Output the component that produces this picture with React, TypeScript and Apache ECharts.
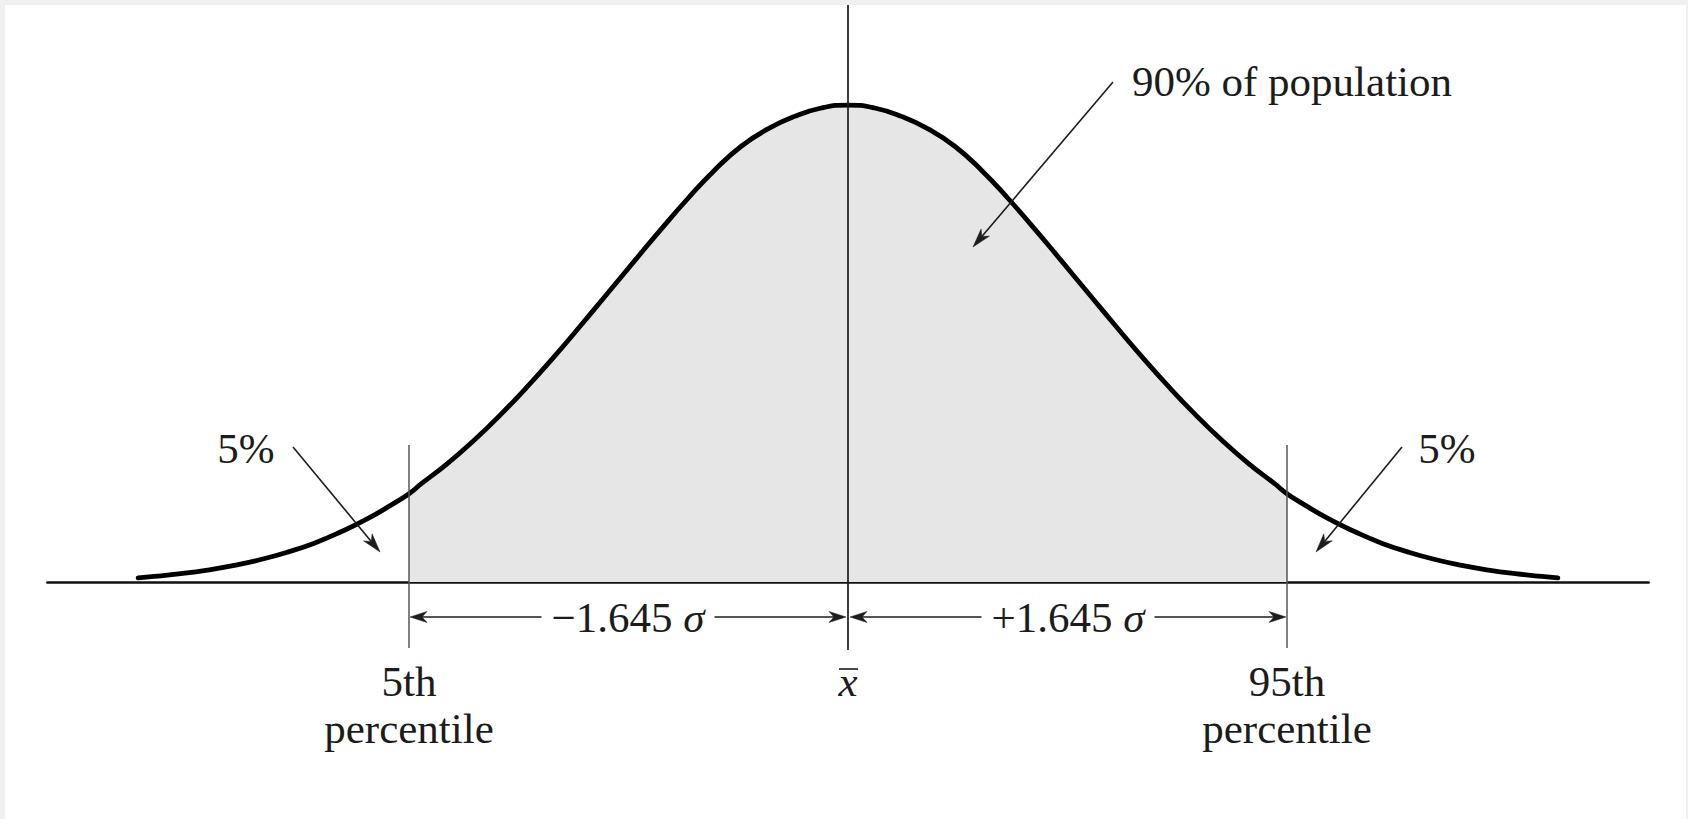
import React, { useEffect, useRef } from "react";
import * as echarts from "echarts";

// Standardised position (units of the marked sigma) and curve height (density)
const zValues = [
  -2.66, -2.6, -2.5, -2.4, -2.3, -2.2, -2.1, -2.0, -1.9, -1.8, -1.7, -1.645, -1.6, -1.5, -1.4, -1.3, -1.2, -1.1,
  -1.0, -0.9, -0.8, -0.7, -0.6, -0.5, -0.4, -0.3, -0.2, -0.1, 0,
  0.1, 0.2, 0.3, 0.4, 0.5, 0.6, 0.7, 0.8, 0.9, 1.0,
  1.1, 1.2, 1.3, 1.4, 1.5, 1.6, 1.645, 1.7, 1.8, 1.9, 2.0, 2.1, 2.2, 2.3, 2.4, 2.5, 2.6, 2.66,
];
const density = [
  0.0035, 0.0047, 0.007, 0.01, 0.0139, 0.0188, 0.025, 0.0325, 0.042, 0.053, 0.066, 0.0738, 0.082, 0.0993, 0.1188,
  0.1404, 0.1638, 0.1888, 0.215, 0.2418, 0.2686, 0.2952, 0.3208, 0.3445, 0.3645, 0.379, 0.3895, 0.3965, 0.399,
  0.3965, 0.3895, 0.379, 0.3645, 0.3445, 0.3208, 0.2952, 0.2686, 0.2418, 0.215,
  0.1888, 0.1638, 0.1404, 0.1188, 0.0993, 0.082, 0.0738, 0.066, 0.053, 0.042, 0.0325, 0.025, 0.0188, 0.0139, 0.01,
  0.007, 0.0047, 0.0035,
];

const percentileZ = [-1.645, 0, 1.645];
const percentileTop = ["5th", "x", "95th"];
const percentileBottom = ["percentile", "", "percentile"];
const spanLabels = ["\u22121.645", "+1.645"];
const sigmaLabel = "\u03c3";
const tailLabels = ["5%", "5%"];
const bodyLabel = "90% of population";

const FONT = "'Liberation Serif', 'Times New Roman', Times, serif";
const INK = "#1c1c1c";
const FS = 43;

function arrow(x1: number, y1: number, x2: number, y2: number, len: number, half: number, width: number) {
  const dx = x2 - x1;
  const dy = y2 - y1;
  const L = Math.sqrt(dx * dx + dy * dy);
  const ux = dx / L;
  const uy = dy / L;
  const nx = -uy;
  const ny = ux;
  const bx = x2 - ux * len;
  const by = y2 - uy * len;
  const mx = x2 - ux * len * 0.72;
  const my = y2 - uy * len * 0.72;
  return [
    {
      type: "line",
      z: 20,
      shape: { x1, y1, x2: mx, y2: my },
      style: { stroke: INK, lineWidth: width },
    },
    {
      type: "polygon",
      z: 20,
      shape: {
        points: [
          [x2, y2],
          [bx + nx * half, by + ny * half],
          [mx, my],
          [bx - nx * half, by - ny * half],
        ],
      },
      style: { fill: INK, stroke: INK, lineWidth: 0.5 },
    },
  ];
}

function label(text: string, x: number, y: number, extra: any = {}) {
  return {
    type: "text",
    z: 30,
    x,
    y,
    style: {
      text,
      fontSize: FS,
      fontFamily: FONT,
      fill: INK,
      align: "center",
      verticalAlign: "middle",
      textAlign: "center",
      textVerticalAlign: "middle",
      ...extra,
    },
  };
}

export default function App() {
  const ref = useRef<HTMLDivElement>(null);

  useEffect(() => {
    if (!ref.current) return;
    const chart = echarts.init(ref.current, null, { renderer: "svg" });
    const curve = zValues.map((z, i) => [z, density[i]]);
    const body = curve.filter((p) => Math.abs(p[0]) <= 1.645 + 1e-9);

    chart.setOption({
      animation: false,
      grid: { left: 47.4, right: 39.4, top: 8.2, bottom: 237 },
      xAxis: {
        type: "value",
        min: -3,
        max: 3,
        axisLine: { show: true, onZero: true, lineStyle: { color: "#111", width: 2.6 } },
        axisTick: { show: false },
        axisLabel: { show: false },
        splitLine: { show: false },
      },
      yAxis: { type: "value", min: 0, max: 0.48, show: false },
      series: [
        {
          type: "line",
          data: body,
          smooth: 0.5,
          symbol: "none",
          lineStyle: { width: 0 },
          areaStyle: { color: "#e6e6e6", opacity: 1 },
          z: 1,
          silent: true,
        },
        {
          type: "line",
          data: curve,
          smooth: 0.5,
          symbol: "none",
          lineStyle: { width: 4.8, color: "#000", cap: "round", join: "round" },
          z: 3,
          silent: true,
        },
      ],
    });

    const P = (z: number, d: number) => chart.convertToPixel({ gridIndex: 0 }, [z, d]) as number[];
    const baseY = P(0, 0)[1];
    const xs = percentileZ.map((z) => P(z, 0)[0]);
    const dimY = baseY + 35;
    const els: any[] = [];

    // vertical reference lines
    els.push({
      type: "line",
      z: 15,
      shape: { x1: xs[1], y1: 5, x2: xs[1], y2: baseY + 68 },
      style: { stroke: "#1a1a1a", lineWidth: 1.7 },
    });
    [0, 2].forEach((i) => {
      els.push({
        type: "line",
        z: 15,
        shape: { x1: xs[i], y1: baseY - 137, x2: xs[i], y2: baseY + 66 },
        style: { stroke: "#555", lineWidth: 1.5 },
      });
    });

    // dimension arrows
    const dimHead = (tip: number, dir: number) => ({
      type: "polygon",
      z: 20,
      shape: {
        points: [
          [tip, dimY],
          [tip + dir * 17, dimY - 5.5],
          [tip + dir * 12, dimY],
          [tip + dir * 17, dimY + 5.5],
        ],
      },
      style: { fill: INK, stroke: INK, lineWidth: 0.5 },
    });
    [
      [xs[0] + 1, xs[1] - 2],
      [xs[1] + 2, xs[2] - 1],
    ].forEach(([a, b], k) => {
      els.push({
        type: "line",
        z: 18,
        shape: { x1: a + 10, y1: dimY, x2: b - 10, y2: dimY },
        style: { stroke: INK, lineWidth: 1.6 },
      });
      els.push(dimHead(a, 1));
      els.push(dimHead(b, -1));
      els.push({
        type: "text",
        z: 30,
        x: (a + b) / 2,
        y: dimY,
        style: {
          text: "{n|" + spanLabels[k] + " }{s|" + sigmaLabel + "}",
          fontSize: FS,
          fontFamily: FONT,
          fill: INK,
          align: "center",
          verticalAlign: "middle",
          textAlign: "center",
          textVerticalAlign: "middle",
          backgroundColor: "#ffffff",
          padding: [0, 10],
          rich: {
            n: { fontSize: FS, fontFamily: FONT, fill: INK },
            s: { fontSize: FS, fontFamily: FONT, fill: INK, fontStyle: "italic" },
          },
        },
      });
    });

    // percentile labels
    percentileZ.forEach((_, i) => {
      if (i === 1) {
        els.push(label(percentileTop[i], xs[i], baseY + 99, { fontStyle: "italic" }));
        els.push({
          type: "line",
          z: 30,
          shape: { x1: xs[i] - 9, y1: baseY + 87, x2: xs[i] + 10, y2: baseY + 87 },
          style: { stroke: INK, lineWidth: 1.6 },
        });
      } else {
        els.push(label(percentileTop[i], xs[i], baseY + 99));
        els.push(label(percentileBottom[i], xs[i], baseY + 146));
      }
    });

    // tail and body annotations
    els.push(label(tailLabels[0], 246, 448));
    els.push(...arrow(293, 447, 380, 552, 19, 5.5, 1.6));
    els.push(label(tailLabels[1], 1447, 448));
    els.push(...arrow(1402, 447, 1316, 552, 19, 5.5, 1.6));
    els.push(label(bodyLabel, 1292, 81));
    els.push(...arrow(1113, 82, 973, 247, 19, 5.5, 1.6));

    chart.setOption({ graphic: { elements: els } });

    return () => {
      chart.dispose();
    };
  }, []);

  return (
    <div style={{ position: "fixed", left: 0, top: 0, width: "1688px", height: "819px", background: "#f0f0f0" }}>
      <div
        style={{ position: "absolute", left: "5px", top: "5px", width: "1681px", height: "814px", background: "#ffffff" }}
      />
      <div ref={ref} style={{ position: "absolute", left: 0, top: 0, width: "1688px", height: "819px" }} />
    </div>
  );
}
